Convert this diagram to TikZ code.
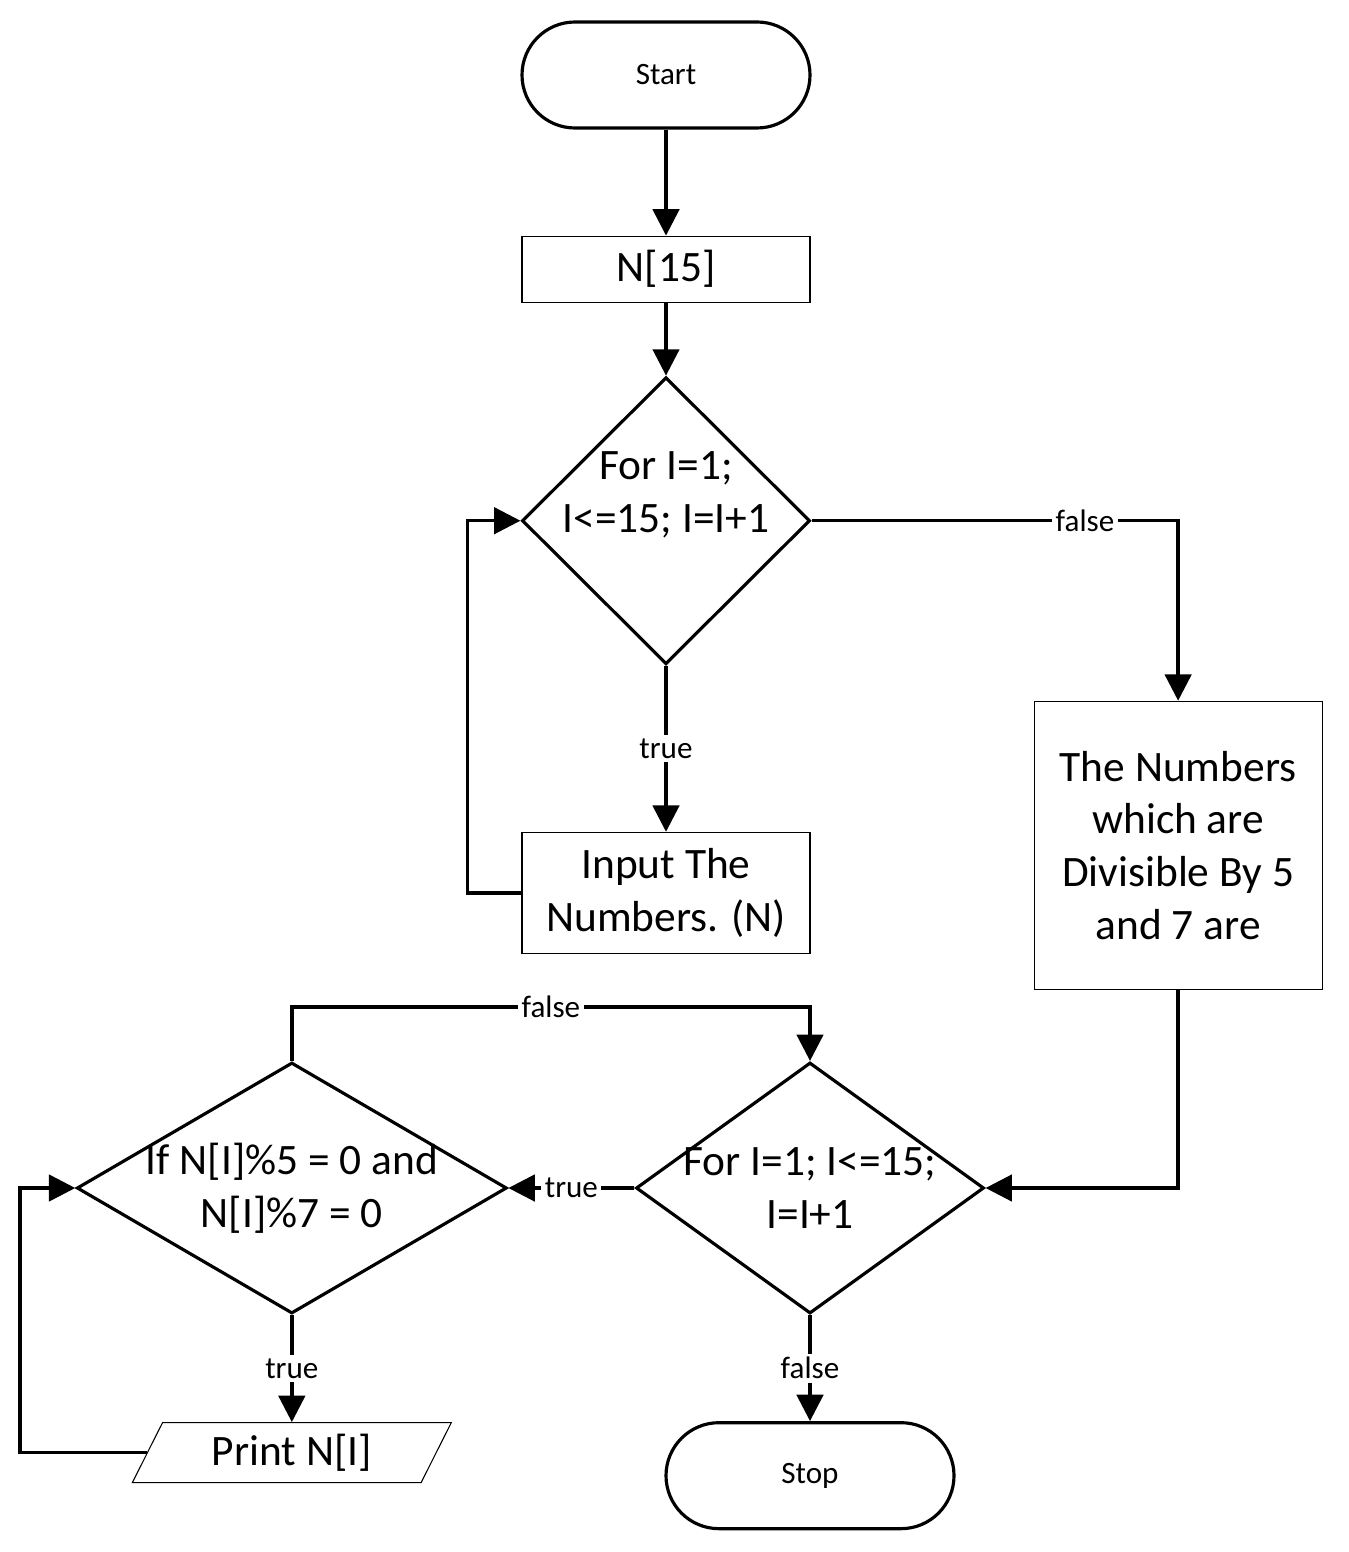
\documentclass[tikz,border=0pt]{standalone}
\usepackage{fontspec}
\setmainfont{Carlito}
\usetikzlibrary{shapes.geometric,arrows.meta,positioning}

\begin{document}
\begin{tikzpicture}[
        node distance=1.5cm and 2cm,
        term/.style={draw, line width=1.8pt, rounded corners=1.06cm, minimum width=5.76cm, minimum height=2.12cm, font=\fontsize{17.7}{21}\selectfont},
        box/.style={draw, line width=0.6pt, align=center, minimum width=5.76cm, inner sep=0pt, font=\fontsize{24.7}{30}\selectfont},
        cond/.style={draw, diamond, line width=1.8pt, inner sep=0pt},
        txt/.style={align=center, inner sep=0pt, font=\fontsize{24.7}{30}\selectfont},
        io/.style={draw, trapezium, trapezium left angle=63.4, trapezium right angle=116.6, trapezium stretches, line width=0.6pt, minimum width=6.38cm, minimum height=1.2cm, inner sep=0pt, font=\fontsize{24.7}{30}\selectfont},
        line/.style={line width=2pt, -{Triangle[length=15pt,width=15pt]}},
        lbl/.style={fill=white, inner sep=2pt, font=\fontsize{17.7}{21}\selectfont}
    ]
        \useasboundingbox (0,0) rectangle (26.96,-31.04);

        \node[term] (start) at (13.32,-1.5) {Start};
        \node[box, minimum height=1.32cm, below=2.12cm of start] (arr) {N[15]};
        \node[cond, minimum width=5.76cm, minimum height=5.74cm, below=1.46cm of arr,
            label={[txt, yshift=0.52cm]center:For I=1;\\I<=15; I=I+1}] (loop1) {};
        \node[box, minimum height=2.42cm, below=3.32cm of loop1] (input) {Input The\\Numbers. (N)};
        \node[box, minimum height=5.76cm, below right=3.6cm and 4.44cm of loop1.east] (result) {The Numbers\\which are\\Divisible By 5\\and 7 are};

        \node[cond, minimum width=6.96cm, minimum height=5.02cm,
            label={[txt]center:For I=1; I<=15;\\I=I+1}] (loop2) at (16.2,-23.76) {};
        \node[cond, minimum width=8.6cm, minimum height=5.02cm, left=2.52cm of loop2,
            label={[txt]center:If N[I]\%5 = 0 and\\N[I]\%7 = 0}] (check) {};
        \node[io, below=2.14cm of check] (print) {Print N[I]};
        \node[term, below=2.12cm of loop2] (stop) {Stop};

        \draw[line] (start) -- (arr);
        \draw[line] (arr) -- (loop1);
        \draw[line] (loop1.east) -| node[lbl, pos=0.373] {false} (result.north);
        \draw[line] (loop1.south) -- node[lbl] {true} (input.north);
        \draw[line] (input.west) -- ++(-1.08,0) |- (loop1.west);
        \draw[line] (result.south) |- (loop2.east);
        \draw[line] (loop2.west) -- node[lbl] {true} (check.east);
        \draw[line] (check.north) -- ++(0,1.08) -| node[lbl, pos=0.25] {false} (loop2.north);
        \draw[line] (check.south) -- node[lbl] {true} (print.north);
        \draw[line] (print.left side) -| ([xshift=-1.1cm]check.west) -- (check.west);
        \draw[line] (loop2.south) -- node[lbl] {false} (stop.north);

    \end{tikzpicture}
\end{document}
